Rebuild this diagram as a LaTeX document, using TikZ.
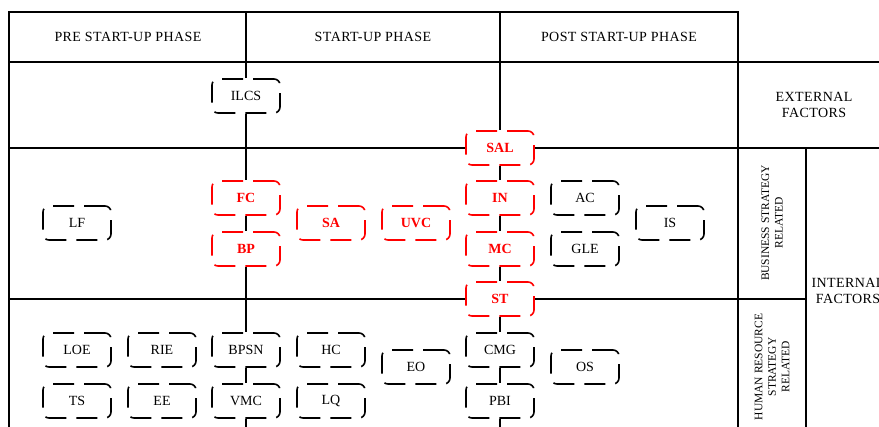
\documentclass[tikz,border=0pt]{standalone}
\usepackage{fontspec}
\setmainfont{Liberation Serif}

\begin{document}
\begin{tikzpicture}[x=1pt, y=-1pt,
    tableline/.style={line width=1.3pt, black},
    factor/.style={draw, fill=white, rounded corners=6pt, line width=1.6pt,
        dash pattern=on 21pt off 10pt, minimum width=68pt, minimum height=34pt,
        inner sep=0pt, font=\fontsize{14}{16}\selectfont},
    keyfactor/.style={factor, draw=red, text=red, font=\fontsize{14}{16}\selectfont\bfseries},
    headtext/.style={align=center, font=\fontsize{14}{16}\selectfont\addfontfeature{LetterSpace=3}},
    sidetext/.style={align=center, rotate=90, font=\fontsize{11.5}{13.5}\selectfont}
]
    \useasboundingbox (0,0) rectangle (879,427);
    \clip (0,0) rectangle (879,427);

    % Table frame
    \draw[tableline] (9,430) -- (9,12) -- (738,12) -- (738,430);
    \draw[tableline] (9,62) -- (879,62);
    \draw[tableline] (806,148) -- (806,430);

    % Phase headers
    \node[headtext] (pre) at (128,37) {PRE START-UP PHASE};
    \node[headtext] (start) at (373,37) {START-UP PHASE};
    \node[headtext] (post) at (619,37) {POST START-UP PHASE};

    % Factor groups
    \node[headtext] (external) at (814,105) {EXTERNAL\\FACTORS};
    \node[headtext] (internal) at (848,291) {INTERNAL\\FACTORS};
    \node[sidetext] (business) at (772,223) {BUSINESS STRATEGY\\RELATED};
    \node[sidetext] (human) at (772,367) {HUMAN RESOURCE\\STRATEGY\\RELATED};

    % External factors
    \node[factor] (ILCS) at (246,96) {ILCS};
    \node[keyfactor] (SAL) at (500,148) {SAL};

    % Business strategy related
    \node[factor] (LF) at (77,223) {LF};
    \node[keyfactor] (FC) at (246,198) {FC};
    \node[keyfactor] (BP) at (246,249) {BP};
    \node[keyfactor] (SA) at (331,223) {SA};
    \node[keyfactor] (UVC) at (416,223) {UVC};
    \node[keyfactor] (IN) at (500,198) {IN};
    \node[keyfactor] (MC) at (500,249) {MC};
    \node[keyfactor] (ST) at (500,299) {ST};
    \node[factor] (AC) at (585,198) {AC};
    \node[factor] (GLE) at (585,249) {GLE};
    \node[factor] (IS) at (670,223) {IS};

    % Human resource strategy related
    \node[factor] (LOE) at (77,350) {LOE};
    \node[factor] (RIE) at (162,350) {RIE};
    \node[factor] (BPSN) at (246,350) {BPSN};
    \node[factor] (HC) at (331,350) {HC};
    \node[factor] (EO) at (416,367) {EO};
    \node[factor] (TS) at (77,401) {TS};
    \node[factor] (EE) at (162,401) {EE};
    \node[factor] (VMC) at (246,401) {VMC};
    \node[factor] (LQ) at (331,401) {LQ};
    \node[factor] (CMG) at (500,350) {CMG};
    \node[factor] (PBI) at (500,401) {PBI};
    \node[factor] (OS) at (585,367) {OS};

    % Row lines through the boxes
    \coordinate (rowA west) at (9,148);
    \coordinate (rowA east) at (879,148);
    \coordinate (rowB west) at (9,299);
    \coordinate (rowB east) at (806,299);
    \draw[tableline] (rowA west) -- (SAL) -- (rowA east);
    \draw[tableline] (rowB west) -- (ST) -- (rowB east);

    % Phase borders linking the boxes
    \coordinate (preTop) at (246,12);
    \coordinate (preBot) at (246,430);
    \coordinate (postTop) at (500,12);
    \coordinate (postBot) at (500,430);
    \draw[tableline] (preTop) -- (ILCS) -- (FC) -- (BP) -- (BPSN) -- (VMC) -- (preBot);
    \draw[tableline] (postTop) -- (SAL) -- (IN) -- (MC) -- (ST) -- (CMG) -- (PBI) -- (postBot);

\end{tikzpicture}
\end{document}
